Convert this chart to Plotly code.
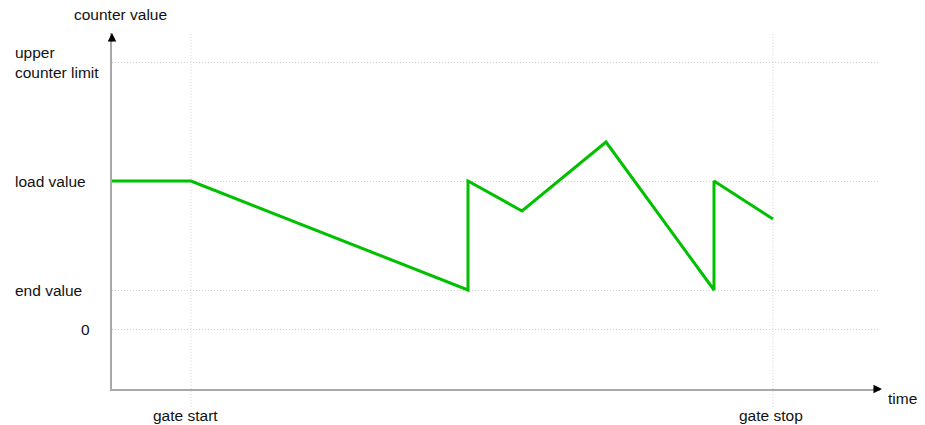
import plotly.graph_objects as go

# Counter course over time (arbitrary time units / counter units)
time = [0, 79, 356, 356, 410, 494, 602, 602, 661]
counter = [148, 148, 39, 148, 118, 187, 39, 148, 110]

# Reference levels on the counter axis
level_values = [0, 39, 148, 267]
level_labels = ["0", "end value", "load value", "upper<br>counter limit"]

# Gate events on the time axis
gate_times = [79, 661]
gate_labels = ["gate start", "gate stop"]

FONT = "Liberation Sans, Arial, sans-serif"
TXT = "#111111"
AXIS = "#a8a8a8"
GRID = "#d2d2d2"
DOTS = "1px,2px"

fig = go.Figure()
fig.add_trace(go.Scatter(
    x=time, y=counter, mode="lines",
    line=dict(color="#00c000", width=3),
    hoverinfo="skip", showlegend=False,
))

fig.update_layout(
    width=925, height=425,
    margin=dict(l=112, r=45, t=33, b=36),
    paper_bgcolor="white", plot_bgcolor="white",
    font=dict(family=FONT, size=15.5, color=TXT),
    xaxis=dict(range=[0, 768], showgrid=False, zeroline=False,
               showticklabels=False, ticks="",
               showline=True, linecolor=AXIS, linewidth=1.5),
    yaxis=dict(range=[-60, 296], tickvals=level_values, showticklabels=False,
               ticks="", showgrid=True, gridcolor=GRID, gridwidth=1,
               griddash=DOTS, zeroline=False,
               showline=True, linecolor=AXIS, linewidth=1.5),
)

# vertical gate markers, extending a little below the time axis
for t in gate_times:
    fig.add_shape(type="line", xref="x", yref="paper", x0=t, x1=t,
                  y0=-0.05, y1=1, line=dict(color=GRID, width=1, dash=DOTS),
                  layer="below")

# level labels on the left
for v, lab in zip(level_values, level_labels):
    if v == 0:
        fig.add_annotation(xref="paper", yref="y", x=0, y=v, text=lab,
                           showarrow=False, xanchor="right", yanchor="middle",
                           xshift=-20)
    else:
        fig.add_annotation(xref="paper", yref="y", x=0, y=v, text=lab,
                           showarrow=False, xanchor="left", yanchor="middle",
                           align="left", xshift=-99)

# gate labels under the time axis
for t, lab, dx in zip(gate_times, gate_labels, [-6, -2]):
    fig.add_annotation(xref="x", yref="paper", x=t, y=0, text=lab,
                       showarrow=False, xanchor="center", yanchor="middle",
                       xshift=dx, yshift=-26)

# axis titles
fig.add_annotation(xref="paper", yref="paper", x=0, y=1, text="counter value",
                   showarrow=False, xanchor="center", yanchor="middle",
                   xshift=8, yshift=19)
fig.add_annotation(xref="paper", yref="paper", x=1, y=0, text="time",
                   showarrow=False, xanchor="left", yanchor="middle",
                   xshift=6, yshift=-9)

# arrow heads at the ends of both axes
fig.add_annotation(xref="paper", yref="paper", x=0, y=1, ax=0, ay=10,
                   text="", showarrow=True, arrowhead=2, arrowsize=1.7,
                   arrowwidth=1, arrowcolor="black", standoff=0)
fig.add_annotation(xref="paper", yref="paper", x=1, y=0, ax=-10, ay=0,
                   xshift=2, text="", showarrow=True, arrowhead=2,
                   arrowsize=1.7, arrowwidth=1, arrowcolor="black", standoff=0)

fig.write_html("out.html")
